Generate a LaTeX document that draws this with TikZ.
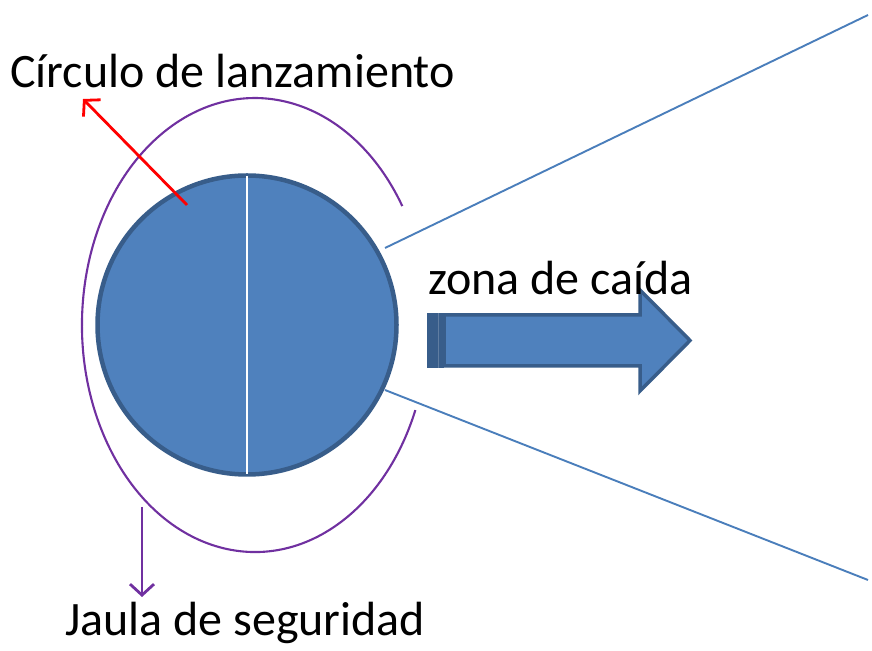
\documentclass[tikz,border=0pt]{standalone}
\usepackage{fontspec}
\setmainfont{Carlito}
\usetikzlibrary{arrows.meta}
\definecolor{fillblue}{HTML}{4F81BD}
\definecolor{edgeblue}{HTML}{385D8A}
\definecolor{lineblue}{HTML}{4A7EBB}
\definecolor{cagepurple}{HTML}{7030A0}
\tikzset{
  lbl/.style={anchor=base west, inner sep=0pt, font=\fontsize{48}{54}\selectfont},
  ring/.style={circle, draw=edgeblue, fill=fillblue, line width=4.5pt, minimum size=299pt, inner sep=0pt},
  ray/.style={draw=lineblue, line width=1.9pt},
  cage/.style={draw=cagepurple, line width=2.1pt},
  pointer/.style={line width=2.8pt, -{Straight Barb[length=11pt,width=24pt,line width=2.8pt]}},
  blockarrow/.style={fill=fillblue, draw=edgeblue, line width=3.5pt, line join=miter}
}
\begin{document}
\begin{tikzpicture}[x=1pt,y=1pt]
\useasboundingbox (0,0) rectangle (872,650);
% circle
\node[ring] (circ) at (247,325) {};
\draw[white, line width=1.8pt] (247,474) -- (247,176);
% cage
\draw[cage] (402.3,443.9) arc[start angle=31.6, end angle=338, x radius=173, y radius=227];
% rays
\coordinate (u0) at (385,402);
\coordinate (u1) at (868,635);
\coordinate (l0) at (385,260);
\coordinate (l1) at (868,70);
\draw[ray] (u0) -- (u1);
\draw[ray] (l0) -- (l1);
% block arrow
\draw[blockarrow] (444,335) -- (640,335) -- (640,360) -- (690,309.5) -- (640,259) -- (640,284) -- (444,284) -- cycle;
\fill[edgeblue] (427,336.7) rectangle (444,282.3);
\draw[edgeblue!80!white, line width=0.6pt] (438.5,336.7) -- (438.5,282.3);
% pointers
\coordinate (r0) at (187,445);
\coordinate (r1) at (83,551);
\draw[pointer, red] (r0) -- (r1);
\coordinate (p0) at (142,143);
\coordinate (p1) at (142,53);
\draw[pointer, cagepurple] (p0) -- (p1);
% labels
\node[lbl] (t1) at (10,562) {Círculo de lanzamiento};
\node[lbl] (t2) at (428,355) {zona de caída};
\node[lbl] (t3) at (65,14) {Jaula de seguridad};
\end{tikzpicture}
\end{document}
